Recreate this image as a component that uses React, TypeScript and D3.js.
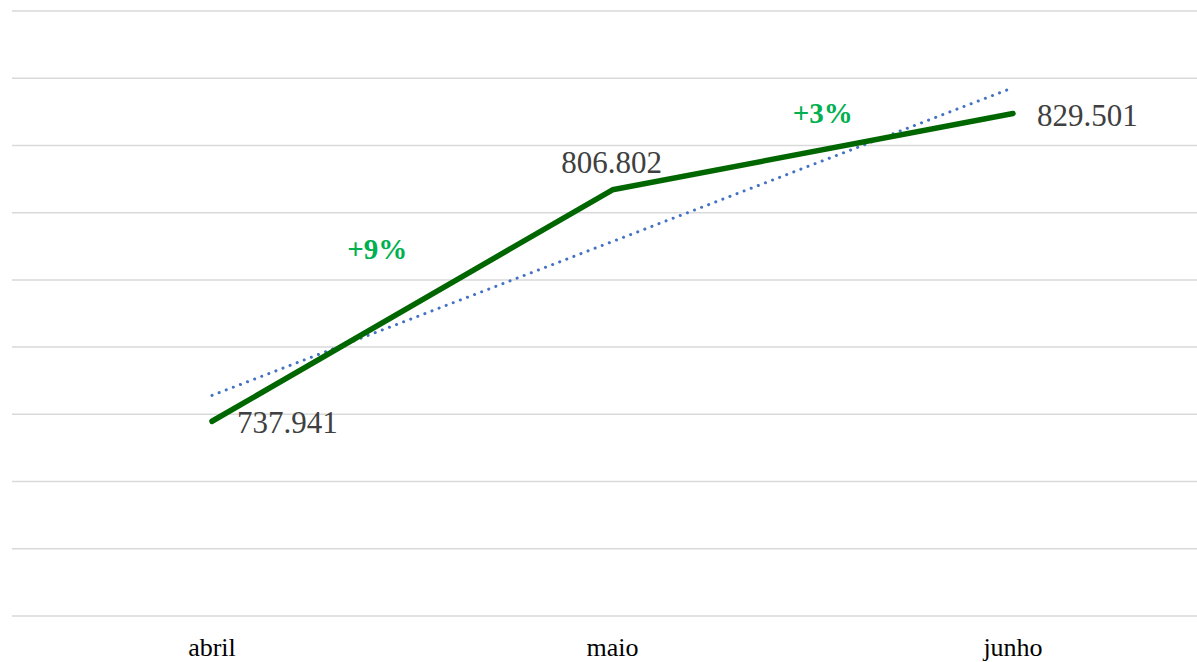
import { useEffect } from 'react';
import * as d3 from 'd3';

const months = ['abril', 'maio', 'junho'];
const values = [737.941, 806.802, 829.501];
const yTicks = [680, 700, 720, 740, 760, 780, 800, 820, 840, 860];

const W = 1197;
const H = 662;
const fmt = (v: number) => v.toFixed(3);

export default function App() {
  useEffect(() => {
    document.body.style.margin = '0';
  }, []);

  const x = d3.scalePoint<string>().domain(months).range([212, 1013]);
  const y = d3.scaleLinear().domain([680, 860]).range([616, 11]);

  const pts: [number, number][] = months.map((m, i) => [x(m)!, y(values[i])]);
  const line = d3.line<[number, number]>();

  // linear trend on x = 1..n
  const n = values.length;
  const xs = values.map((_, i) => i + 1);
  const mx = d3.mean(xs)!;
  const my = d3.mean(values)!;
  const slope =
    d3.sum(xs.map((xi, i) => (xi - mx) * (values[i] - my))) /
    d3.sum(xs.map((xi) => (xi - mx) ** 2));
  const trendAt = (xi: number) => my + slope * (xi - mx);
  const trend: [number, number][] = [
    [x(months[0])!, y(trendAt(1))],
    [x(months[n - 1])! - 5, y(trendAt(n) - 5 / 400 * slope)],
  ];

  const changes = values.slice(1).map((v, i) => v / values[i] - 1);
  const changeDx = [-35, 10];
  const changeY = [259, 123];

  const labelPos = [
    { dx: 25, dy: 12, anchor: 'start' },
    { dx: -1, dy: -17, anchor: 'middle' },
    { dx: 24, dy: 12, anchor: 'start' },
  ];

  return (
    <svg width={W} height={H} style={{ display: 'block' }} fontFamily="'Liberation Serif', 'Times New Roman', serif">
      <rect width={W} height={H} fill="#fff" />
      {yTicks.map((t) => (
        <line key={t} x1={12} x2={W} y1={y(t)} y2={y(t)} stroke="#d9d9d9" strokeWidth={1.5} />
      ))}
      <path
        d={line(trend) ?? undefined}
        fill="none"
        stroke="#4472c4"
        strokeWidth={3}
        strokeDasharray="0.1 7.5"
        strokeLinecap="round"
      />
      <path
        d={line(pts) ?? undefined}
        fill="none"
        stroke="#006600"
        strokeWidth={5.5}
        strokeLinecap="round"
        strokeLinejoin="round"
      />
      {pts.map(([px, py], i) => (
        <text
          key={months[i]}
          x={px + labelPos[i].dx}
          y={py + labelPos[i].dy}
          textAnchor={labelPos[i].anchor as 'start' | 'middle'}
          fontSize={31}
          fill="#404040"
        >
          {fmt(values[i])}
        </text>
      ))}
      {changes.map((c, i) => {
        const cx = (x(months[i])! + x(months[i + 1])!) / 2;
        return (
          <text
            key={i}
            x={cx + changeDx[i]}
            y={changeY[i]}
            textAnchor="middle"
            fontSize={29}
            fontWeight={700}
            fill="#00b050"
          >
            {`+${Math.round(c * 100)}%`}
          </text>
        );
      })}
      {months.map((m) => (
        <text key={m} x={x(m)} y={656} textAnchor="middle" fontSize={26} fill="#000">
          {m}
        </text>
      ))}
    </svg>
  );
}
